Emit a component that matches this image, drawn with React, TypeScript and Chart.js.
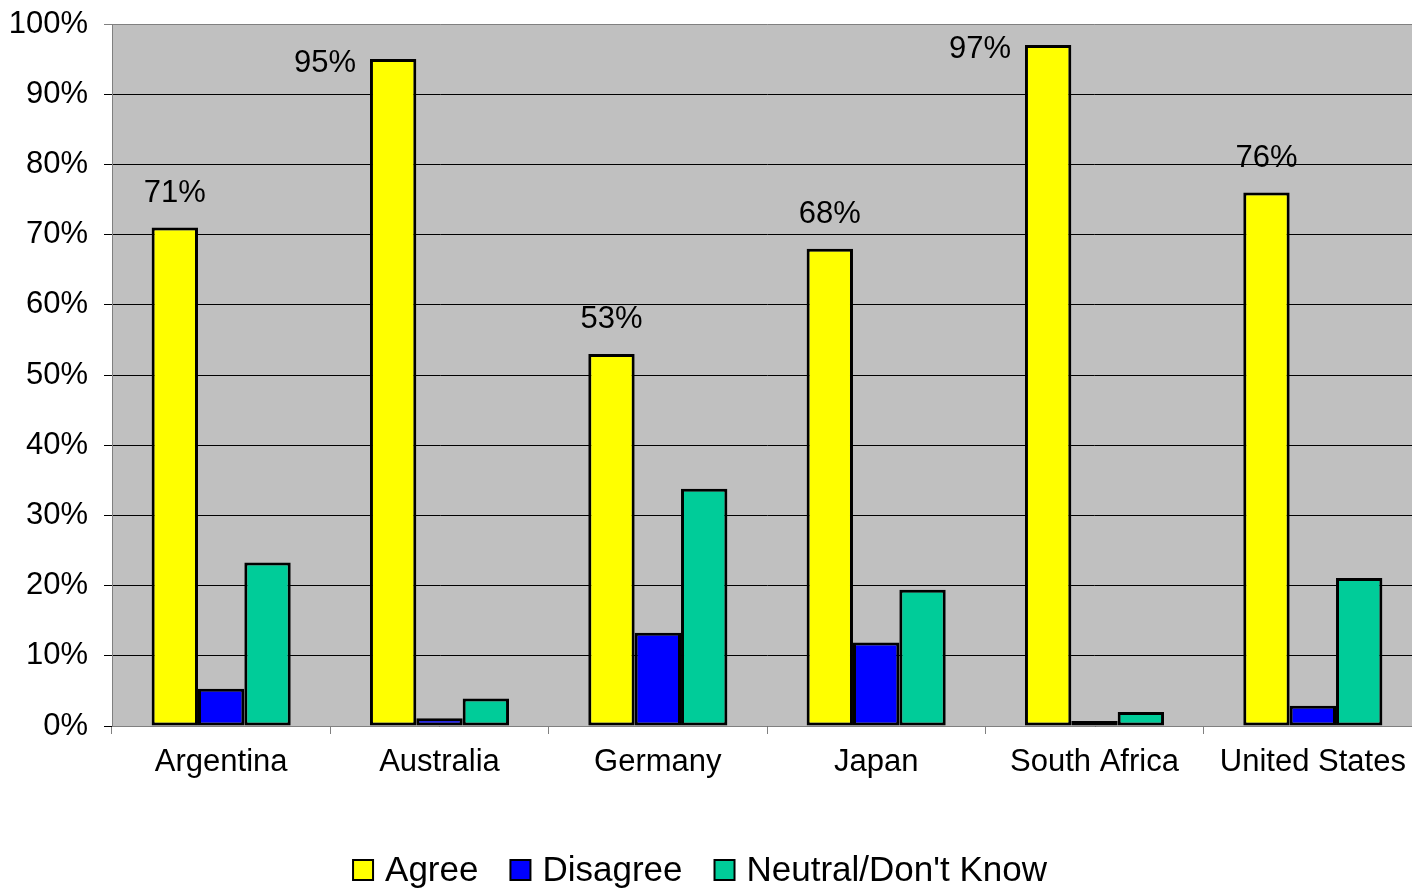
import React, { useEffect, useRef } from "react";
import { Chart, registerables } from "chart.js";

Chart.register(...registerables);

const countries = ["Argentina", "Australia", "Germany", "Japan", "South Africa", "United States"];
const agree = [71, 95, 53, 68, 97, 76];
const disagree = [5.3, 1.1, 13.3, 11.9, 0.7, 2.9];
const neutral = [23.3, 3.9, 33.8, 19.4, 2.0, 21.1];
const yTicks = [0, 10, 20, 30, 40, 50, 60, 70, 80, 90, 100];

const FONT = "'Liberation Sans', Arial, sans-serif";
const LEGEND_CENTER_X = 700;
const LEGEND_CENTER_Y = 870;

// Grey plot background behind the bars
const plotBackground = {
  id: "plotBackground",
  beforeDraw(chart: any) {
    const { ctx, chartArea } = chart;
    ctx.save();
    ctx.fillStyle = "#C0C0C0";
    ctx.fillRect(chartArea.left, chartArea.top, chartArea.right - chartArea.left, chartArea.bottom - chartArea.top);
    ctx.restore();
  },
};

// Percentage labels above the "Agree" bars; tall bars get the label on their left side
const agreeLabels = {
  id: "agreeLabels",
  afterDatasetsDraw(chart: any) {
    const { ctx, chartArea } = chart;
    const meta = chart.getDatasetMeta(0);
    ctx.save();
    ctx.font = `31px ${FONT}`;
    ctx.fillStyle = "#000";
    ctx.textAlign = "center";
    ctx.textBaseline = "middle";
    meta.data.forEach((bar: any, i: number) => {
      let x = bar.x;
      let y = bar.y - 34;
      if (y - 16 < chartArea.top) {
        x = bar.x - 68;
        y = bar.y + 4;
      }
      ctx.fillText(`${agree[i]}%`, x, y);
    });
    ctx.restore();
  },
};

// Legend row under the chart, built from the datasets
const bottomLegend = {
  id: "bottomLegend",
  afterDraw(chart: any) {
    const { ctx } = chart;
    const datasets = chart.data.datasets;
    const box = 20;
    const textGap = 12;
    const itemGap = 32;
    ctx.save();
    ctx.font = `35px ${FONT}`;
    const widths = datasets.map((d: any) => box + textGap + ctx.measureText(d.label).width);
    const total = widths.reduce((a: number, b: number) => a + b, 0) + itemGap * (datasets.length - 1);
    let x = LEGEND_CENTER_X - total / 2;
    ctx.textAlign = "left";
    ctx.textBaseline = "middle";
    datasets.forEach((d: any, i: number) => {
      ctx.fillStyle = d.backgroundColor;
      ctx.fillRect(x, LEGEND_CENTER_Y - box / 2, box, box);
      ctx.strokeStyle = "#000";
      ctx.lineWidth = 2;
      ctx.strokeRect(x, LEGEND_CENTER_Y - box / 2, box, box);
      ctx.fillStyle = "#000";
      ctx.fillText(d.label, x + box + textGap, LEGEND_CENTER_Y + 1);
      x += widths[i] + itemGap;
    });
    ctx.restore();
  },
};

export default function App() {
  const canvasRef = useRef<HTMLCanvasElement | null>(null);

  useEffect(() => {
    document.body.style.margin = "0";
    const canvas = canvasRef.current;
    if (!canvas) return;
    const common = {
      borderColor: "#000",
      borderWidth: 3,
      borderSkipped: false as const,
      categoryPercentage: 0.637,
      barPercentage: 1.0,
    };
    const chart = new Chart(canvas, {
      type: "bar",
      data: {
        labels: countries,
        datasets: [
          { label: "Agree", data: agree, backgroundColor: "#FFFF00", ...common },
          { label: "Disagree", data: disagree, backgroundColor: "#0000FF", ...common },
          { label: "Neutral/Don't Know", data: neutral, backgroundColor: "#00CC99", ...common },
        ],
      },
      options: {
        responsive: false,
        animation: false,
        layout: { padding: { top: 24, right: 0, left: 0, bottom: 94 } },
        plugins: {
          tooltip: { enabled: false },
          legend: { display: false },
        },
        scales: {
          x: {
            offset: true,
            grid: {
              offset: true,
              drawOnChartArea: false,
              color: "#808080",
              tickLength: 8,
            },
            border: { color: "#808080", width: 1 },
            ticks: {
              font: { family: FONT, size: 31 },
              color: "#000",
              padding: 10,
              maxRotation: 0,
            },
            afterFit(scale: any) {
              scale.height = 70;
            },
          },
          y: {
            min: 0,
            max: 100,
            afterBuildTicks(scale: any) {
              scale.ticks = yTicks.map((v) => ({ value: v }));
            },
            grid: {
              color: (c: any) => (c.tick && c.tick.value === 100 ? "#808080" : "#000"),
              lineWidth: 1,
              tickLength: 8,
            },
            border: { color: "#808080", width: 1 },
            ticks: {
              font: { family: FONT, size: 31, lineHeight: 0.5 },
              color: "#000",
              padding: 16,
              callback: (v: any) => `${v}%`,
            },
            afterFit(scale: any) {
              scale.width = 112;
            },
          },
        },
      },
      plugins: [plotBackground, agreeLabels, bottomLegend],
    });
    return () => chart.destroy();
  }, []);

  return (
    <div style={{ position: "absolute", left: 0, top: 0, width: 1412, height: 890, overflow: "hidden", background: "#fff" }}>
      <canvas ref={canvasRef} width={1422} height={890} style={{ width: 1422, height: 890, display: "block" }} />
    </div>
  );
}
